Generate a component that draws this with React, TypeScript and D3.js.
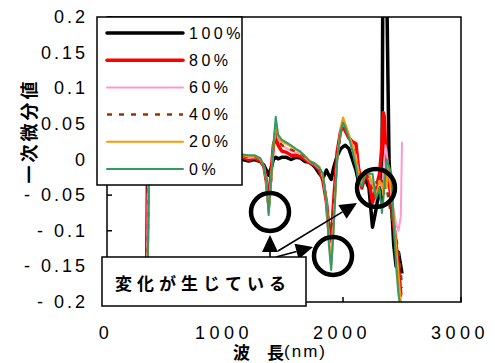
import React from "react";
import * as d3 from "d3";

// wavelength grid (nm) shared by every series
const wavelengths = [
  330, 345, 360, 400, 600, 800, 1000, 1100, 1150, 1200,
  1250, 1300, 1330, 1350, 1370, 1390, 1410, 1430, 1450, 1480,
  1520, 1560, 1600, 1640, 1680, 1720, 1760, 1800, 1830, 1860,
  1880, 1900, 1920, 1950, 1980, 2000, 2020, 2050, 2080, 2110,
  2130, 2160, 2190, 2220, 2250, 2280, 2310, 2330, 2340, 2350,
  2360, 2370, 2390, 2410, 2430, 2450, 2470, 2490, 2500,
];

const p100 = [
  -0.35, 0.02, 0.03, 0.01, 0.008, 0.006, 0.004, 0.002, 0.0, -0.002,
  0.0, -0.003, -0.008, -0.015, -0.022, -0.012, 0.0, 0.003, 0.001, 0.003,
  0.003, 0.0, 0.003, 0.002, -0.003, -0.004, -0.01, -0.02, -0.026, -0.015,
  -0.022, -0.028, -0.012, 0.005, 0.015, 0.018, 0.02, 0.015, 0.0, -0.015,
  -0.03, -0.035, -0.028, -0.04, -0.095, -0.07, -0.04, -0.06, 0.35, 0.35,
  0.35, 0.25, 0.0, -0.06, -0.12, -0.15, -0.13, -0.15, -0.16,
];
const p80 = [
  -0.35, -0.07, 0.03, 0.012, 0.008, 0.006, 0.004, 0.003, 0.003, 0.0,
  0.002, -0.002, -0.01, -0.03, -0.06, -0.02, 0.02, 0.032, 0.02, 0.012,
  0.01, 0.006, 0.006, 0.004, 0.0, -0.005, -0.008, -0.015, -0.03, -0.06,
  -0.1, -0.115, -0.06, 0.01, 0.04, 0.046, 0.04, 0.03, 0.025, 0.022,
  -0.01, -0.04, -0.02, -0.03, -0.06, -0.04, -0.02, 0.02, 0.066, 0.06,
  0.02, 0.0, -0.03, -0.06, -0.09, -0.12, -0.15, -0.19, -0.19,
];
const p60 = [
  -0.35, -0.05, 0.03, 0.012, 0.008, 0.006, 0.004, 0.004, 0.004, 0.002,
  0.003, 0.0, -0.01, -0.03, -0.07, -0.025, 0.02, 0.04, 0.03, 0.02,
  0.016, 0.012, 0.01, 0.008, 0.002, -0.004, -0.007, -0.013, -0.025, -0.06,
  -0.11, -0.14, -0.08, 0.0, 0.04, 0.05, 0.045, 0.033, 0.02, 0.005,
  -0.015, -0.035, -0.02, -0.025, -0.04, -0.035, -0.03, -0.04, -0.02, 0.0,
  0.02, 0.01, -0.02, -0.05, -0.07, -0.09, -0.1, -0.08, 0.025,
];
const p40 = [
  -0.35, -0.12, 0.02, 0.012, 0.008, 0.006, 0.004, 0.004, 0.005, 0.003,
  0.004, 0.0, -0.01, -0.03, -0.07, -0.03, 0.02, 0.045, 0.03, 0.02,
  0.018, 0.014, 0.011, 0.009, 0.003, -0.003, -0.006, -0.012, -0.025, -0.06,
  -0.09, -0.095, -0.07, 0.0, 0.04, 0.05, 0.045, 0.033, 0.02, 0.0,
  -0.02, -0.035, -0.02, -0.025, -0.04, -0.03, -0.04, -0.03, -0.04, -0.05,
  -0.01, -0.04, -0.06, -0.08, -0.09, -0.11, -0.13, -0.16, -0.18,
];
const p20 = [
  -0.35, -0.14, 0.02, 0.012, 0.008, 0.006, 0.005, 0.004, 0.006, 0.004,
  0.005, 0.001, -0.01, -0.03, -0.075, -0.03, 0.02, 0.046, 0.032, 0.025,
  0.022, 0.018, 0.014, 0.01, 0.005, -0.002, -0.005, -0.01, -0.022, -0.06,
  -0.11, -0.15, -0.1, 0.0, 0.045, 0.059, 0.05, 0.035, 0.02, 0.0,
  -0.02, -0.035, -0.015, -0.02, -0.035, -0.05, -0.03, -0.035, -0.05, -0.03,
  -0.02, -0.04, -0.01, -0.04, -0.08, -0.12, -0.16, -0.2, -0.21,
];
const p0 = [
  -0.35, -0.15, 0.025, 0.012, 0.008, 0.006, 0.005, 0.005, 0.007, 0.006,
  0.006, 0.002, -0.01, -0.03, -0.078, -0.03, 0.02, 0.06, 0.035, 0.028,
  0.024, 0.02, 0.015, 0.011, 0.004, -0.003, -0.006, -0.012, -0.02, -0.06,
  -0.12, -0.155, -0.1, 0.0, 0.04, 0.052, 0.045, 0.03, 0.012, -0.01,
  -0.03, -0.038, -0.018, -0.02, -0.02, -0.055, -0.04, -0.075, -0.06, -0.04,
  -0.02, 0.0, -0.01, -0.02, -0.09, -0.15, -0.19, -0.21, -0.22,
];

const seriesNames = ["100%", "80%", "60%", "40%", "20%", "0%"];
const xTicks = [0, 1000, 2000, 3000];
const yTicks = [0.2, 0.15, 0.1, 0.05, 0, -0.05, -0.1, -0.15, -0.2];

const styles = [
  { color: "#000000", width: 3.5, dash: "" },
  { color: "#ff0000", width: 3.5, dash: "" },
  { color: "#ff99cc", width: 2, dash: "" },
  { color: "#993300", width: 2.5, dash: "5,7" },
  { color: "#ff9900", width: 2, dash: "" },
  { color: "#339966", width: 2, dash: "" },
];

const W = 495;
const H = 363;
const plot = { left: 107, right: 461, top: 17, bottom: 302 };
const numFont = "'Liberation Sans Narrow', 'Liberation Sans', Arial, sans-serif";
const jpFont = "'Noto Sans CJK JP', sans-serif";

function Arrow({ x1, y1, x2, y2 }: { x1: number; y1: number; x2: number; y2: number }) {
  const a = Math.atan2(y2 - y1, x2 - x1);
  const len = 17;
  const hw = 8;
  const bx = x2 - len * Math.cos(a);
  const by = y2 - len * Math.sin(a);
  const px = -Math.sin(a) * hw;
  const py = Math.cos(a) * hw;
  return (
    <g>
      <line x1={x1} y1={y1} x2={bx} y2={by} stroke="#000" strokeWidth={1.6} />
      <polygon points={`${x2},${y2} ${bx + px},${by + py} ${bx - px},${by - py}`} fill="#000" />
    </g>
  );
}

export default function App() {
  const x = d3.scaleLinear().domain([0, 3000]).range([plot.left, plot.right]);
  const y = d3.scaleLinear().domain([-0.2, 0.2]).range([plot.bottom, plot.top]);
  const all = [p100, p80, p60, p40, p20, p0];
  const line = d3
    .line<number>()
    .x((_, i) => x(wavelengths[i]))
    .y((d) => y(d));

  return (
    <svg width={W} height={H} style={{ position: "absolute", left: 0, top: 0, background: "#fff" }}>
      <defs>
        <clipPath id="plotClip">
          <rect x={plot.left} y={plot.top} width={plot.right - plot.left} height={plot.bottom - plot.top} />
        </clipPath>
      </defs>

      {/* series */}
      <g clipPath="url(#plotClip)">
        {all.map((vals, i) => (
          <path
            key={i}
            d={line(vals) || ""}
            fill="none"
            stroke={styles[i].color}
            strokeWidth={styles[i].width}
            strokeDasharray={styles[i].dash}
            strokeLinejoin="round"
          />
        ))}
      </g>

      {/* frame */}
      <rect
        x={plot.left}
        y={plot.top}
        width={plot.right - plot.left}
        height={plot.bottom - plot.top}
        fill="none"
        stroke="#000"
        strokeWidth={1.5}
      />
      {yTicks.map((t) => (
        <g key={t}>
          <line x1={plot.left} x2={plot.left + 5} y1={y(t)} y2={y(t)} stroke="#000" strokeWidth={1.5} />
          <text
            x={88}
            y={y(t)}
            textAnchor="end"
            dominantBaseline="central"
            fontFamily={numFont}
            fontSize={18}
            letterSpacing={3}
          >
            {t === 0 ? "0" : t < 0 ? "- " + String(-t) : String(t)}
          </text>
        </g>
      ))}
      {xTicks.map((t) => (
        <g key={t}>
          <line x1={x(t)} x2={x(t)} y1={plot.bottom} y2={plot.bottom - 5} stroke="#000" strokeWidth={1.5} />
          <text
            x={x(t) - 1}
            y={333}
            textAnchor="middle"
            dominantBaseline="central"
            fontFamily={numFont}
            fontSize={18}
            letterSpacing={4.5}
          >
            {t}
          </text>
        </g>
      ))}

      {/* axis titles */}
      <text
        transform="translate(28,131) rotate(-90)"
        textAnchor="middle"
        dominantBaseline="central"
        fontFamily={jpFont}
        fontWeight="bold"
        fontSize={18}
        letterSpacing={3}
      >
        一次微分値
      </text>
      <text x={280} y={351} textAnchor="middle" dominantBaseline="central" fontSize={17}>
        <tspan fontFamily={jpFont} fontWeight="bold">波　長</tspan>
        <tspan fontFamily={numFont} letterSpacing={2}>(nm)</tspan>
      </text>

      {/* legend */}
      <rect x={97} y={17} width={145} height={168} fill="#fff" stroke="#000" strokeWidth={1.5} />
      {seriesNames.map((name, i) => {
        const ly = 33 + i * 27.2;
        return (
          <g key={name}>
            <line
              x1={107}
              x2={183}
              y1={ly}
              y2={ly}
              stroke={styles[i].color}
              strokeWidth={styles[i].width}
              strokeDasharray={styles[i].dash}
              strokeLinecap={styles[i].dash ? "butt" : "round"}
            />
            <text
              x={189}
              y={ly}
              dominantBaseline="central"
              fontFamily={numFont}
              fontSize={16}
              letterSpacing={3.5}
            >
              {name}
            </text>
          </g>
        );
      })}

      {/* annotation */}
      <circle cx={270} cy={212} r={19} fill="none" stroke="#000" strokeWidth={4.5} />
      <circle cx={333} cy={256} r={19} fill="none" stroke="#000" strokeWidth={4.5} />
      <circle cx={376} cy={188} r={19} fill="none" stroke="#000" strokeWidth={4.5} />
      <Arrow x1={270} y1={258} x2={270} y2={235} />
      <Arrow x1={276} y1={257} x2={313} y2={247} />
      <Arrow x1={278} y1={251} x2={357} y2={203} />
      <rect x={102} y={257} width={204} height={49} fill="#fff" stroke="#000" strokeWidth={1.5} />
      <text
        x={203}
        y={282}
        textAnchor="middle"
        dominantBaseline="central"
        fontFamily={jpFont}
        fontWeight="bold"
        fontSize={17}
        letterSpacing={5}
      >
        変化が生じている
      </text>
    </svg>
  );
}
